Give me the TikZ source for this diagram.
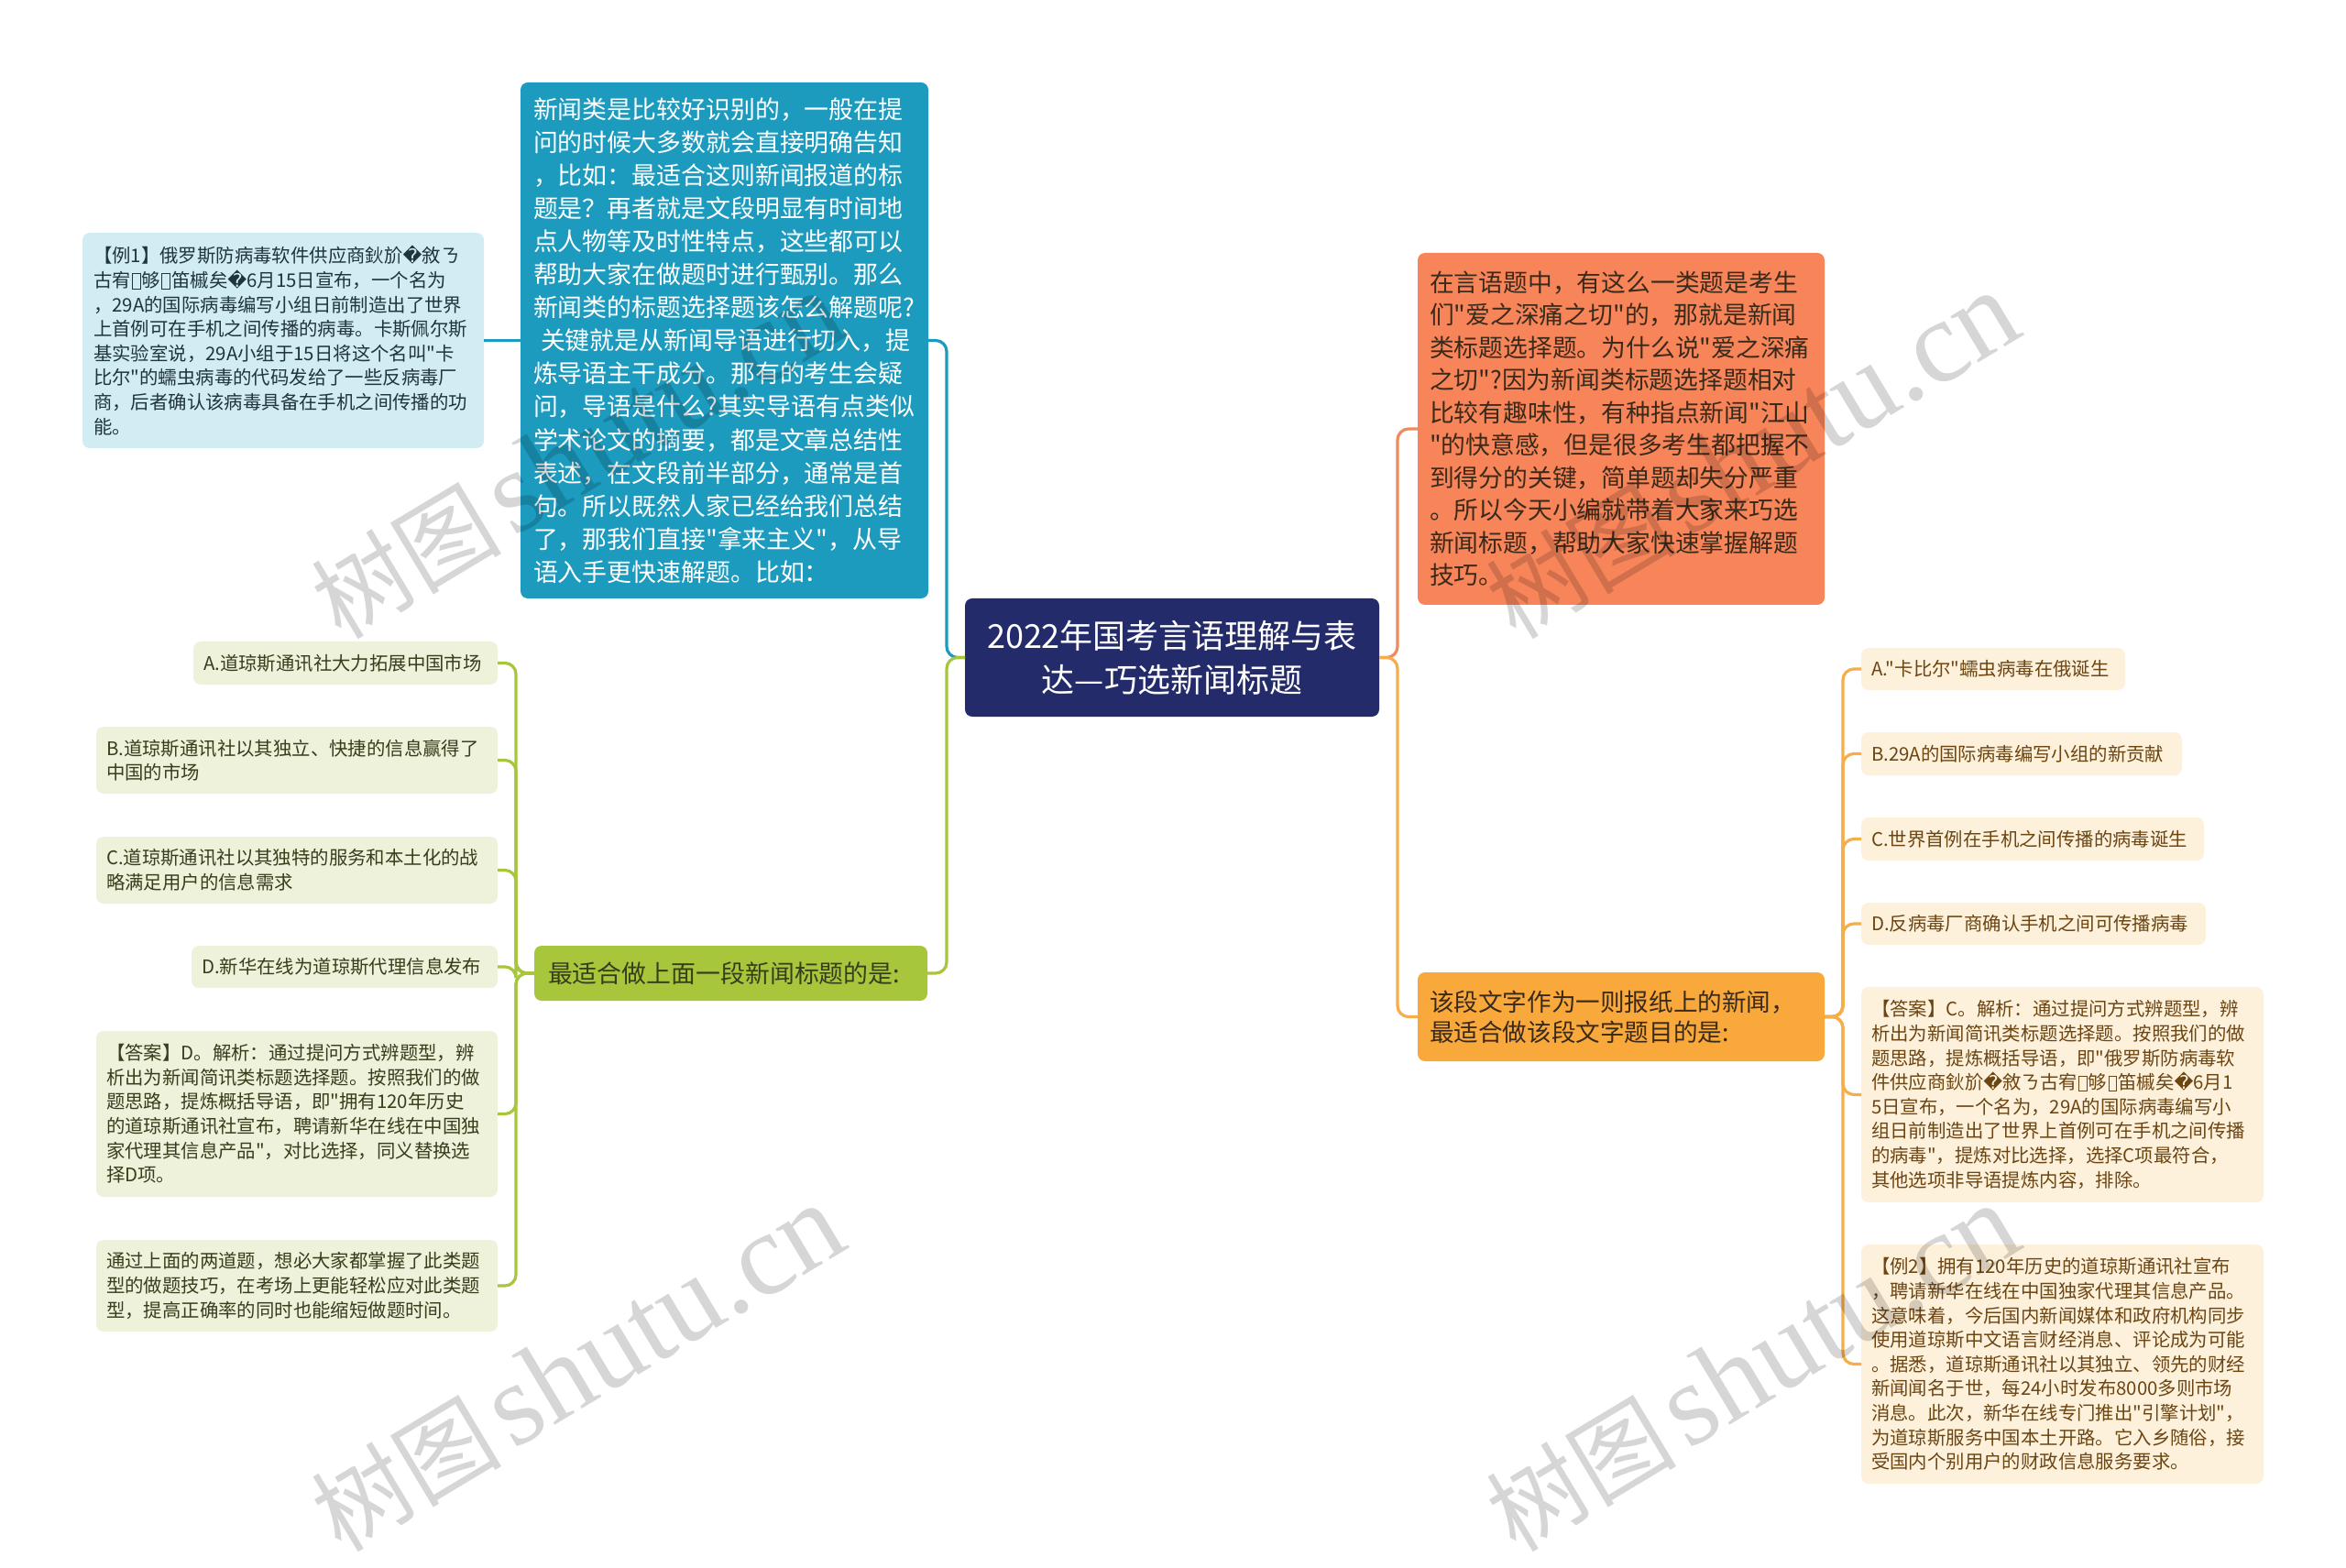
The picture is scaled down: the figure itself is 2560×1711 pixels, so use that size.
\documentclass[tikz,border=0pt]{standalone}
\usepackage{fontspec}
\setmainfont{Noto Sans CJK SC}[Ligatures=TeXOff]
\newfontfamily\wmserif{Liberation Serif}
\newfontfamily\djv{DejaVu Sans}
\newcommand\rpl{{\djv\char"FFFD}}
\newcommand\tofu{\kern0.06em\raisebox{-0.08em}{\setlength\fboxsep{0pt}\setlength\fboxrule{0.045em}\fbox{\rule{0pt}{0.78em}\hspace{0.38em}}}\kern0.06em}
\definecolor{rootc}{HTML}{242B6A}
\definecolor{tealc}{HTML}{1C9BBE}
\definecolor{ex1c}{HTML}{D2ECF4}
\definecolor{ex1t}{HTML}{1F343B}
\definecolor{greenc}{HTML}{A8C63C}
\definecolor{lgreen}{HTML}{EEF2DA}
\definecolor{olivet}{HTML}{363E1C}
\definecolor{orangec}{HTML}{F8855A}
\definecolor{orangeln}{HTML}{F08A5D}
\definecolor{yellowc}{HTML}{F9A93B}
\definecolor{yellowln}{HTML}{F5AE4A}
\definecolor{lyellow}{HTML}{FEF1DC}
\definecolor{brownt}{HTML}{6B4512}
\definecolor{darkt}{HTML}{3A2A1A}
\begin{document}
\begin{tikzpicture}[x=0.5pt,y=-0.5pt,
  nd/.style={rounded corners=4pt, inner ysep=0pt, align=left, outer sep=0pt},
  bigf/.style={font=\fontsize{13.45pt}{18.05pt}\selectfont},
  smf/.style={font=\fontsize{10.2pt}{13.3pt}\selectfont},
  conn/.style={line width=1.6pt, rounded corners=6pt},
  lopt/.style={nd, smf, fill=lgreen, text=olivet, inner xsep=5.5pt},
  ropt/.style={nd, smf, fill=lyellow, text=brownt, inner xsep=5.5pt},
  wm/.style={anchor=base west, rotate=31, text=black, text opacity=0.16, inner sep=0pt}]
\fill[white] (0,0) rectangle (2560,1711);
\useasboundingbox (0,0) rectangle (2560,1711);

% root
\node[nd, align=center, fill=rootc, text=white, font=\fontsize{18pt}{24pt}\selectfont,
  minimum width=226pt, minimum height=64.5pt] (root) at (1279,717.5)
  {2022年国考言语理解与表\\达—巧选新闻标题};

% left upper branch
\node[nd, bigf, fill=tealc, text=white, text width=208.5pt, inner xsep=7pt, minimum height=281.5pt] (teal) at (790.5,371.5)
{新闻类是比较好识别的，一般在提\\
问的时候大多数就会直接明确告知\\
，比如：最适合这则新闻报道的标\\
题是？再者就是文段明显有时间地\\
点人物等及时性特点，这些都可以\\
帮助大家在做题时进行甄别。那么\\
新闻类的标题选择题该怎么解题呢?\\
\hspace*{0.3em}关键就是从新闻导语进行切入，提\\
炼导语主干成分。那有的考生会疑\\
问，导语是什么?其实导语有点类似\\
学术论文的摘要，都是文章总结性\\
表述，在文段前半部分，通常是首\\
句。所以既然人家已经给我们总结\\
了，那我们直接"拿来主义"，从导\\
语入手更快速解题。比如：};

\node[nd, smf, fill=ex1c, text=ex1t, text width=207pt, inner xsep=6pt, minimum height=117.5pt] (ex1) at (309,371.5)
{【例1】俄罗斯防病毒软件供应商鈥斺\rpl 敘ㄋ\\
古宥\tofu 够\tofu 笛槭矣\rpl 6月15日宣布，一个名为\\
，29A的国际病毒编写小组日前制造出了世界\\
上首例可在手机之间传播的病毒。卡斯佩尔斯\\
基实验室说，29A小组于15日将这个名叫"卡\\
比尔"的蠕虫病毒的代码发给了一些反病毒厂\\
商，后者确认该病毒具备在手机之间传播的功\\
能。};

% left lower branch
\node[nd, bigf, fill=greenc, text=olivet, text width=199.5pt, inner xsep=7.5pt, minimum height=30pt] (green) at (797.5,1062)
{最适合做上面一段新闻标题的是:};

\node[lopt, text width=155pt, minimum height=23.5pt] (lA) at (377,723.5) {A.道琼斯通讯社大力拓展中国市场};
\node[lopt, text width=208pt, minimum height=36.5pt] (lB) at (324,829.5) {B.道琼斯通讯社以其独立、快捷的信息赢得了\\中国的市场};
\node[lopt, text width=208pt, minimum height=36.5pt] (lC) at (324,949.5) {C.道琼斯通讯社以其独特的服务和本土化的战\\略满足用户的信息需求};
\node[lopt, text width=156pt, minimum height=23pt] (lD) at (376,1055) {D.新华在线为道琼斯代理信息发布};
\node[lopt, text width=208pt, minimum height=90.5pt] (lAns) at (324,1215.5)
{【答案】D。解析：通过提问方式辨题型，辨\\
析出为新闻简讯类标题选择题。按照我们的做\\
题思路，提炼概括导语，即"拥有120年历史\\
的道琼斯通讯社宣布，聘请新华在线在中国独\\
家代理其信息产品"，对比选择，同义替换选\\
择D项。};
\node[lopt, text width=208pt, minimum height=50pt] (lSum) at (324,1403)
{通过上面的两道题，想必大家都掌握了此类题\\
型的做题技巧，在考场上更能轻松应对此类题\\
型，提高正确率的同时也能缩短做题时间。};

% right upper
\node[nd, font=\fontsize{13.4pt}{17.75pt}\selectfont, fill=orangec, text=darkt, text width=209pt, inner xsep=6.5pt, minimum height=192pt] (orange) at (1769,468)
{在言语题中，有这么一类题是考生\\
们"爱之深痛之切"的，那就是新闻\\
类标题选择题。为什么说"爱之深痛\\
之切"?因为新闻类标题选择题相对\\
比较有趣味性，有种指点新闻"江山\\
"的快意感，但是很多考生都把握不\\
到得分的关键，简单题却失分严重\\
。所以今天小编就带着大家来巧选\\
新闻标题，帮助大家快速掌握解题\\
技巧。};

% right lower
\node[nd, font=\fontsize{13.3pt}{16.5pt}\selectfont, fill=yellowc, text=darkt, text width=209pt, inner xsep=6.5pt, minimum height=48.5pt] (yellow) at (1769,1109.5)
{该段文字作为一则报纸上的新闻，\\最适合做该段文字题目的是:};

\node[ropt, text width=133pt, minimum height=23pt] (rA) at (2175,730) {A."卡比尔"蠕虫病毒在俄诞生};
\node[ropt, text width=164pt, minimum height=23.5pt] (rB) at (2206,822.5) {B.29A的国际病毒编写小组的新贡献};
\node[ropt, text width=176pt, minimum height=23.5pt] (rC) at (2218,915.5) {C.世界首例在手机之间传播的病毒诞生};
\node[ropt, text width=177pt, minimum height=23pt] (rD) at (2219,1008) {D.反病毒厂商确认手机之间可传播病毒};
\node[ropt, text width=208.5pt, minimum height=117.5pt] (rAns) at (2250.5,1194.5)
{【答案】C。解析：通过提问方式辨题型，辨\\
析出为新闻简讯类标题选择题。按照我们的做\\
题思路，提炼概括导语，即"俄罗斯防病毒软\\
件供应商鈥斺\rpl 敘ㄋ古宥\tofu 够\tofu 笛槭矣\rpl 6月1\\
5日宣布，一个名为，29A的国际病毒编写小\\
组日前制造出了世界上首例可在手机之间传播\\
的病毒"，提炼对比选择，选择C项最符合，\\
其他选项非导语提炼内容，排除。};
\node[ropt, text width=208.5pt, minimum height=130.5pt] (rEx) at (2250.5,1488.5)
{【例2】拥有120年历史的道琼斯通讯社宣布\\
，聘请新华在线在中国独家代理其信息产品。\\
这意味着，今后国内新闻媒体和政府机构同步\\
使用道琼斯中文语言财经消息、评论成为可能\\
。据悉，道琼斯通讯社以其独立、领先的财经\\
新闻闻名于世，每24小时发布8000多则市场\\
消息。此次，新华在线专门推出"引擎计划"，\\
为道琼斯服务中国本土开路。它入乡随俗，接\\
受国内个别用户的财政信息服务要求。};

% connectors
\draw[conn, tealc] (root.west) -- ++(-20,0) |- (teal.east);
\draw[conn, tealc] (teal.west) -- (ex1.east);
\draw[conn, greenc] (root.west) -- ++(-20,0) |- (green.east);
\foreach \n in {lA,lB,lC,lD,lAns,lSum}
  \draw[conn, greenc] (green.west) -- ++(-20,0) |- (\n.east);
\draw[conn, orangeln] (root.east) -- ++(20,0) |- (orange.west);
\draw[conn, yellowln] (root.east) -- ++(20,0) |- (yellow.west);
\foreach \n in {rA,rB,rC,rD,rAns,rEx}
  \draw[conn, yellowln] (yellow.east) -- ++(20,0) |- (\n.west);

% watermarks
\node[wm] (wm1) at (372,700) {{\fontsize{52pt}{52pt}\selectfont 树图}\hspace{6pt}{\wmserif\fontsize{64pt}{64pt}\selectfont shutu.cn}};
\node[wm] (wm2) at (1654,700) {{\fontsize{52pt}{52pt}\selectfont 树图}\hspace{6pt}{\wmserif\fontsize{64pt}{64pt}\selectfont shutu.cn}};
\node[wm] (wm3) at (372,1696) {{\fontsize{52pt}{52pt}\selectfont 树图}\hspace{6pt}{\wmserif\fontsize{64pt}{64pt}\selectfont shutu.cn}};
\node[wm] (wm4) at (1654,1696) {{\fontsize{52pt}{52pt}\selectfont 树图}\hspace{6pt}{\wmserif\fontsize{64pt}{64pt}\selectfont shutu.cn}};
\end{tikzpicture}
\end{document}
